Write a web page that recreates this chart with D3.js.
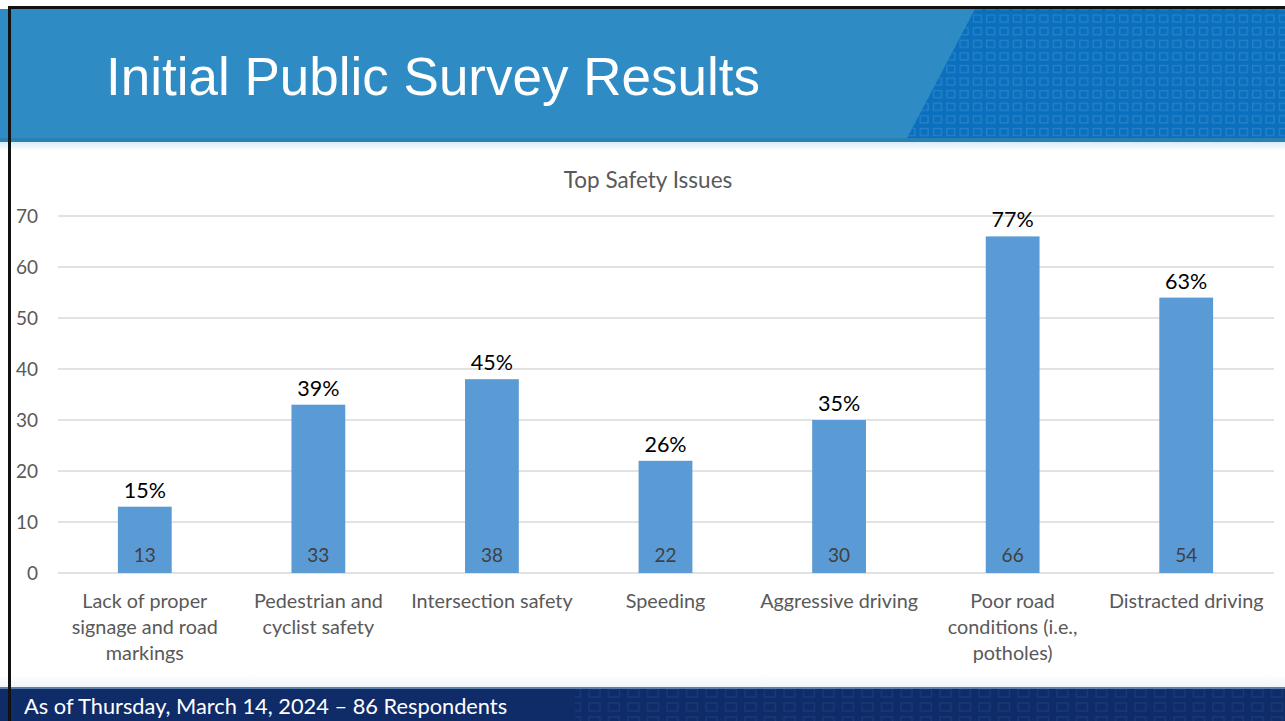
<!DOCTYPE html>
<html>
<head>
<meta charset="utf-8">
<script src="https://cdn.jsdelivr.net/npm/d3@7"></script>
<style>
html,body{margin:0;padding:0;background:#fff;}
svg{display:block;}
</style>
</head>
<body>
<svg id="c" width="1285" height="721"></svg>
<script>
const categories = [
  ["Lack of proper", "signage and road", "markings"],
  ["Pedestrian and", "cyclist safety"],
  ["Intersection safety"],
  ["Speeding"],
  ["Aggressive driving"],
  ["Poor road", "conditions (i.e.,", "potholes)"],
  ["Distracted driving"]
];
const counts = [13, 33, 38, 22, 30, 66, 54];
const percents = ["15%", "39%", "45%", "26%", "35%", "77%", "63%"];
const yTicks = [0, 10, 20, 30, 40, 50, 60, 70];
const slideTitle = "Initial Public Survey Results";
const chartTitle = "Top Safety Issues";
const footerText = "As of Thursday, March 14, 2024 \u2013 86 Respondents";

const svg = d3.select("#c");
const W = 1285, H = 721;
const defs = svg.append("defs");

const pat = defs.append("pattern").attr("id","sq").attr("patternUnits","userSpaceOnUse")
  .attr("width",13.3).attr("height",12.6);
pat.append("rect").attr("x",2.5).attr("y",2.5).attr("width",8).attr("height",7)
  .attr("fill","none").attr("stroke","#3a8fd0").attr("stroke-width",1.3).attr("opacity",0.6);
const pat2 = defs.append("pattern").attr("id","sq2").attr("patternUnits","userSpaceOnUse")
  .attr("width",19.5).attr("height",14);
pat2.append("rect").attr("x",4).attr("y",3).attr("width",11).attr("height",8)
  .attr("fill","none").attr("stroke","#1d3f80").attr("stroke-width",1.3).attr("opacity",0.7);

const g1 = defs.append("linearGradient").attr("id","hg").attr("x1",0).attr("x2",0).attr("y1",0).attr("y2",1);
g1.append("stop").attr("offset","0%").attr("stop-color","#d6ecf5");
g1.append("stop").attr("offset","100%").attr("stop-color","#ffffff");

// header
svg.append("rect").attr("x",0).attr("y",9).attr("width",W).attr("height",133).attr("fill","#2e8bc3");
svg.append("path").attr("d","M975,9 L1285,9 L1285,142 L905,142 Z").attr("fill","#0a6fbd");
svg.append("path").attr("d","M975,9 L1285,9 L1285,142 L905,142 Z").attr("fill","url(#sq)");
svg.append("rect").attr("x",0).attr("y",138).attr("width",W).attr("height",4).attr("fill","#2a7fb3");
svg.append("rect").attr("x",0).attr("y",142).attr("width",W).attr("height",9).attr("fill","url(#hg)");
svg.append("text").attr("x",106).attr("y",95).attr("fill","#fff")
  .attr("font-family","'Liberation Sans', Arial, sans-serif").attr("font-size",53)
  .text(slideTitle);

// footer
const fg = defs.append("linearGradient").attr("id","fg").attr("x1",0).attr("x2",0).attr("y1",0).attr("y2",1);
fg.append("stop").attr("offset","0%").attr("stop-color","#ffffff");
fg.append("stop").attr("offset","100%").attr("stop-color","#eef4f8");
svg.append("rect").attr("x",0).attr("y",675).attr("width",W).attr("height",12).attr("fill","url(#fg)");
svg.append("rect").attr("x",0).attr("y",687).attr("width",W).attr("height",34).attr("fill","#0f2c69");
svg.append("rect").attr("x",575).attr("y",687).attr("width",W-575).attr("height",34).attr("fill","url(#sq2)");
svg.append("rect").attr("x",0).attr("y",687).attr("width",W).attr("height",2).attr("fill","#5a7fa8");
svg.append("text").attr("x",24).attr("y",714).attr("fill","#fff")
  .attr("font-family","Lato, 'Open Sans', sans-serif").attr("font-size",21.8)
  .text(footerText);

// borders
svg.append("rect").attr("x",8).attr("y",6).attr("width",W-8).attr("height",3).attr("fill","#111");
svg.append("rect").attr("x",8).attr("y",6).attr("width",3).attr("height",H-6).attr("fill","#111");

// chart
const x = d3.scaleBand().domain(d3.range(counts.length)).range([58,1273]).paddingInner(0.69).paddingOuter(0.345);
const y = d3.scaleLinear().domain([0,70]).range([573,216]);
const font = "Lato, 'Open Sans', sans-serif";

svg.append("text").attr("x",648).attr("y",188).attr("text-anchor","middle").attr("fill","#595959")
  .attr("font-family",font).attr("font-size",22.5).text(chartTitle);

const grid = svg.append("g");
grid.selectAll("line").data(yTicks).join("line")
  .attr("x1",58).attr("x2",1274).attr("y1",d=>y(d)).attr("y2",d=>y(d))
  .attr("stroke","#d9d9d9").attr("stroke-width",1.3);

const yAxis = d3.axisLeft(y).tickValues(yTicks).tickSize(0).tickPadding(0);
const ya = svg.append("g").attr("transform","translate(38,0)").call(yAxis);
ya.select(".domain").remove();
ya.selectAll("text").attr("fill","#595959").attr("font-family",font).attr("font-size",19).attr("dy","0.35em");

svg.append("g").selectAll("rect").data(counts).join("rect")
  .attr("x",(d,i)=>x(i)).attr("width",x.bandwidth())
  .attr("y",d=>y(d)).attr("height",d=>y(0)-y(d)).attr("fill","#5b9bd5");

svg.append("g").selectAll("text").data(counts).join("text")
  .attr("x",(d,i)=>x(i)+x.bandwidth()/2).attr("y",d=>y(d)-9)
  .attr("text-anchor","middle").attr("fill","#000").attr("font-family",font).attr("font-size",21.5)
  .text((d,i)=>percents[i]);

svg.append("g").selectAll("text").data(counts).join("text")
  .attr("x",(d,i)=>x(i)+x.bandwidth()/2).attr("y",y(0)-11)
  .attr("text-anchor","middle").attr("fill","#404040").attr("font-family",font).attr("font-size",19)
  .text(d=>d);

const xl = svg.append("g").selectAll("text").data(categories).join("text")
  .attr("x",(d,i)=>x(i)+x.bandwidth()/2).attr("y",608)
  .attr("text-anchor","middle").attr("fill","#595959").attr("font-family",font).attr("font-size",19.8);
xl.selectAll("tspan").data(d=>d).join("tspan")
  .attr("x",function(){return d3.select(this.parentNode).attr("x");})
  .attr("dy",(d,j)=>j===0?0:26).text(d=>d);
</script>
</body>
</html>
